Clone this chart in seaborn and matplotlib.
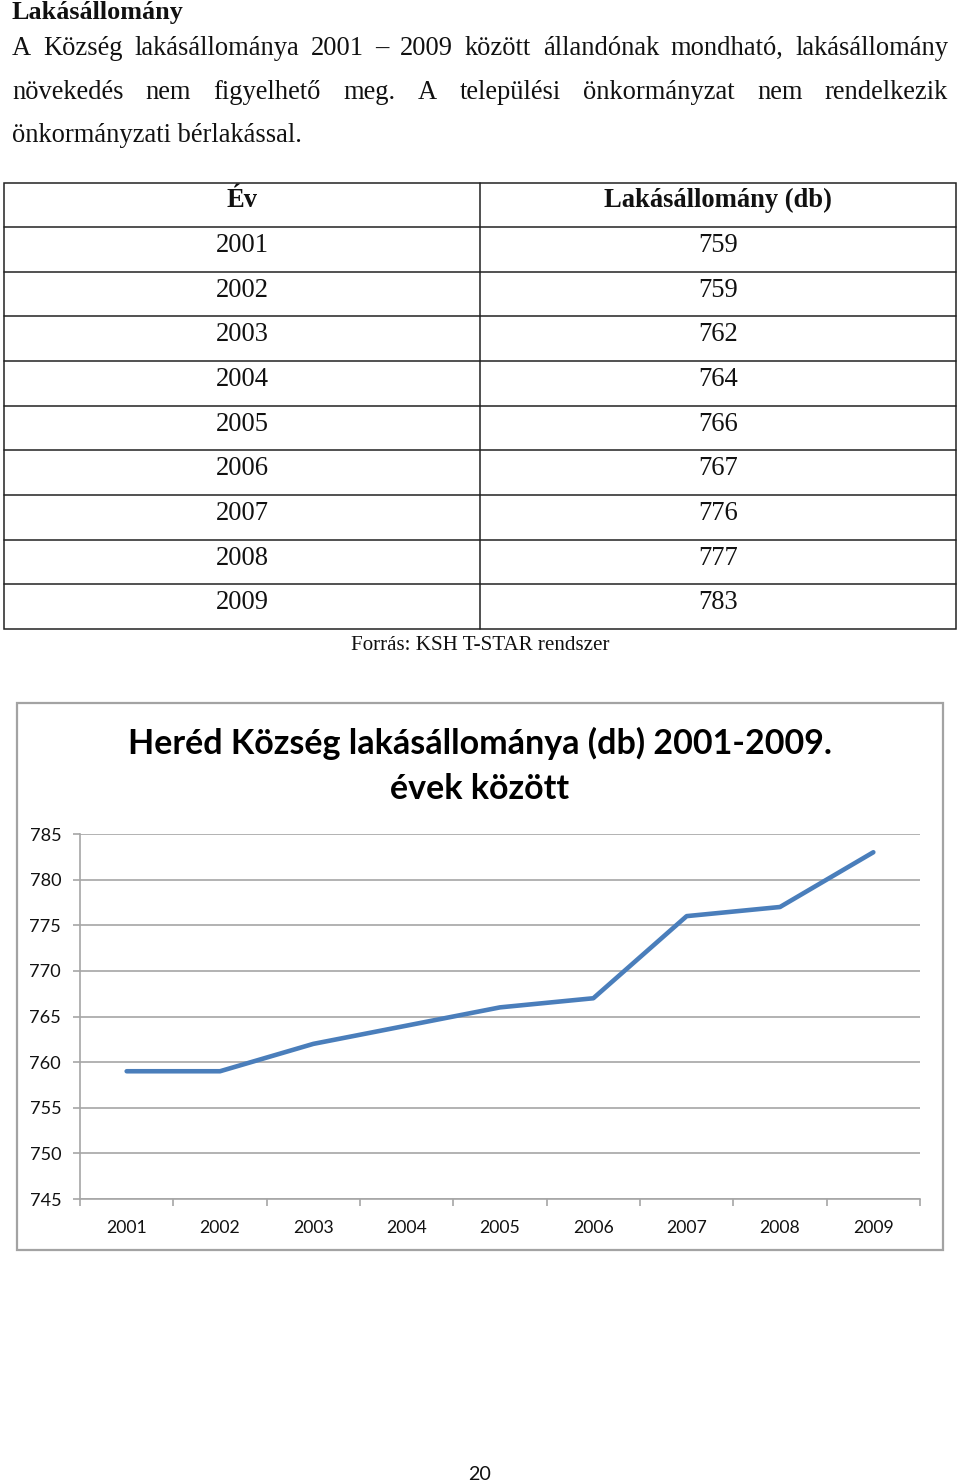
import matplotlib
matplotlib.use("Agg")
import matplotlib.pyplot as plt
import seaborn as sns
import pandas as pd
import numpy as np
from matplotlib.lines import Line2D
from matplotlib.patches import Rectangle

# ---------------- data ----------------
heading = "Lakásállomány"
para_justified = [
    "A Község lakásállománya 2001 – 2009 között állandónak mondható, lakásállomány",
    "növekedés nem figyelhető meg. A települési önkormányzat nem rendelkezik",
]
para_last = "önkormányzati bérlakással."
table_header = ["Év", "Lakásállomány (db)"]
years = ["2001", "2002", "2003", "2004", "2005", "2006", "2007", "2008", "2009"]
stock = [759, 759, 762, 764, 766, 767, 776, 777, 783]
source = "Forrás: KSH T-STAR rendszer"
chart_title = ["Heréd Község lakásállománya (db) 2001-2009.", "évek között"]
y_ticks = [745, 750, 755, 760, 765, 770, 775, 780, 785]
page_no = "20"

# ---------------- setup ----------------
sns.set_theme(style="white")
SERIF = "Liberation Serif"
SANS = "Lato"
W, H = 960, 1484
fig = plt.figure(figsize=(W / 100, H / 100), dpi=100)
bg = fig.add_axes([0, 0, 1, 1])
bg.set_xlim(0, W)
bg.set_ylim(H, 0)
bg.axis("off")
renderer = fig.canvas.get_renderer()


def width_of(s, **kw):
    t = bg.text(0, 0, s, **kw)
    w = t.get_window_extent(renderer).width
    t.remove()
    return w


def fit(s, target, **kw):
    return 10 * target / width_of(s, fontsize=10, **kw)


# ---------------- heading + paragraph ----------------
hs = fit(heading, 172, family=SERIF, weight="bold")
bg.text(12, 19, heading, family=SERIF, weight="bold", fontsize=hs,
        va="baseline", ha="left", color="#111111")

fs = fit(para_last, 291, family=SERIF)
left, right = 12, 948
baselines = [55, 99, 142]
for line, yb in zip(para_justified, baselines):
    words = line.split(" ")
    ws = [width_of(w, family=SERIF, fontsize=fs) for w in words]
    gap = (right - left - sum(ws)) / (len(words) - 1)
    x = left
    for w, wd in zip(words, ws):
        bg.text(x, yb, w, family=SERIF, fontsize=fs, va="baseline",
                ha="left", color="#111111")
        x += wd + gap
bg.text(left, baselines[2], para_last, family=SERIF, fontsize=fs,
        va="baseline", ha="left", color="#111111")

# ---------------- table ----------------
tx0, tx1, tmid = 4, 956, 480
ty0, thead = 183, 227
ty1 = 629
rowh = (ty1 - thead) / len(years)
lc = "#222222"
bg.add_patch(Rectangle((tx0, ty0), tx1 - tx0, ty1 - ty0, fill=False,
                       edgecolor=lc, lw=1.1))
bg.add_line(Line2D([tmid, tmid], [ty0, ty1], color=lc, lw=1.1))
bg.add_line(Line2D([tx0, tx1], [thead, thead], color=lc, lw=1.1))
for i in range(1, len(years)):
    yy = thead + i * rowh
    bg.add_line(Line2D([tx0, tx1], [yy, yy], color=lc, lw=1.1))
c1, c2 = 242, 718
bg.text(c1, ty0 + 24, table_header[0], family=SERIF, weight="bold",
        fontsize=fs, ha="center", va="baseline", color="#111111")
bg.text(c2, ty0 + 24, table_header[1], family=SERIF, weight="bold",
        fontsize=fs, ha="center", va="baseline", color="#111111")
for i, (yr, v) in enumerate(zip(years, stock)):
    yb = thead + i * rowh + 25
    bg.text(c1, yb, yr, family=SERIF, fontsize=fs, ha="center",
            va="baseline", color="#111111")
    bg.text(c2, yb, str(v), family=SERIF, fontsize=fs, ha="center",
            va="baseline", color="#111111")

ss = fit(source, 259, family=SERIF)
bg.text(480, 650, source, family=SERIF, fontsize=ss, ha="center",
        va="baseline", color="#111111")

# ---------------- chart ----------------
bg.add_patch(Rectangle((17, 703), 926, 547, fill=False, edgecolor="#a3a3a3",
                       lw=1.6))
ts = fit(chart_title[0], 704, family=SANS, weight="bold")
bg.text(480, 754, chart_title[0], family=SANS, weight="bold", fontsize=ts,
        ha="center", va="baseline", color="#000000")
bg.text(480, 799, chart_title[1], family=SANS, weight="bold", fontsize=ts,
        ha="center", va="baseline", color="#000000")

ax = fig.add_axes([80 / W, 1 - 1199 / H, 840 / W, 365 / H])
df = pd.DataFrame({"pos": np.arange(len(years)), "stock": stock})
sns.lineplot(data=df, x="pos", y="stock", ax=ax, color="#4A7EBB",
             linewidth=3.3, sort=False, solid_capstyle="round")
ax.set_xlim(-0.5, len(years) - 0.5)
ax.set_ylim(y_ticks[0], y_ticks[-1])
ax.set_facecolor("none")
gc = "#a6a6a6"
ax.set_yticks(y_ticks)
ax.yaxis.grid(True, color=gc, lw=1.2)
ax.xaxis.grid(False)
ax.set_axisbelow(True)
for s in ["top", "right"]:
    ax.spines[s].set_visible(False)
for s in ["left", "bottom"]:
    ax.spines[s].set_visible(True)
    ax.spines[s].set_color(gc)
    ax.spines[s].set_linewidth(1.2)

ls = fit("2001", 41, family=SANS)
ax.set_xticks(np.arange(-0.5, len(years), 1))
ax.set_xticklabels([])
ax.set_xticks(np.arange(len(years)), minor=True)
ax.set_xticklabels(years, minor=True, family=SANS, fontsize=ls, color="#111111")
ax.tick_params(axis="x", which="major", length=5, width=1.2, color=gc,
               direction="out", bottom=True)
ax.tick_params(axis="x", which="minor", length=0, pad=15, bottom=True)
ax.set_yticklabels([str(t) for t in y_ticks], family=SANS, fontsize=ls * 1.03,
                   color="#111111")
ax.tick_params(axis="y", length=5, width=1.2, color=gc, direction="out",
               pad=8.5, left=True)
ax.set_xlabel("")
ax.set_ylabel("")

# ---------------- page number ----------------
ps = fit(page_no, 23, family=SANS)
bg.text(480, 1480, page_no, family=SANS, fontsize=ps, ha="center",
        va="baseline", color="#111111")

fig.savefig("out.png", dpi=100)
